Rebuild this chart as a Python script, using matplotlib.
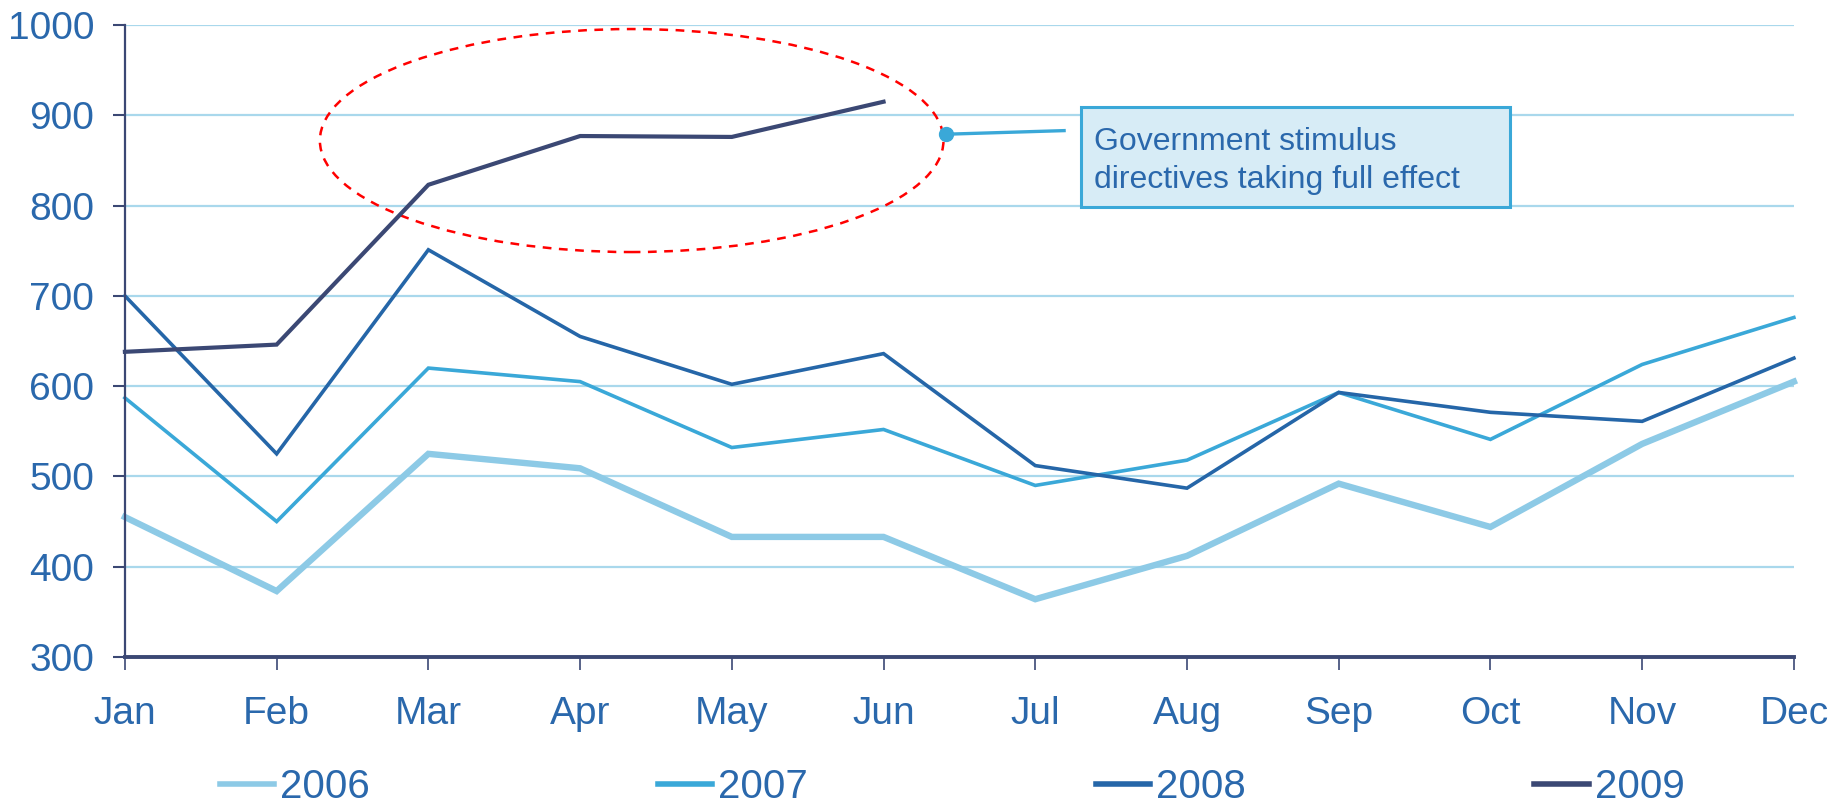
import matplotlib
matplotlib.use("Agg")
import matplotlib.pyplot as plt
from matplotlib.patches import Ellipse, Rectangle

plt.rcParams['font.family'] = ['Liberation Sans', 'DejaVu Sans']

meses = ['Jan', 'Feb', 'Mar', 'Apr', 'May', 'Jun', 'Jul', 'Aug', 'Sep', 'Oct', 'Nov', 'Dec']

v2006 = [455, 373, 525, 509, 433, 433, 364, 412, 492, 444, 536, 605]
v2007 = [587, 450, 620, 605, 532, 552, 490, 518, 593, 541, 624, 676]
v2008 = [700, 525, 751, 655, 602, 636, 512, 487, 593, 571, 561, 631]
v2009 = [638, 646, 823, 877, 876, 915]

anos = ['2006', '2007', '2008', '2009']
cores = ['#8DCAE6', '#3AA8D8', '#2566A8', '#3B4874']
larguras = [4.6, 2.6, 2.6, 3.0]

cor_texto = '#2A68AC'
cor_eixo = '#3B4874'

fig = plt.figure(figsize=(18.29, 8.11), dpi=100)
ax = fig.add_axes([0.0683, 0.1899, 0.9125, 0.7793])

series = [v2006, v2007, v2008, v2009]
for serie, ano, cor, lw in zip(series, anos, cores, larguras):
    ax.plot(range(len(serie)), serie, color=cor, linewidth=lw, label=ano,
            clip_on=False, solid_joinstyle='miter')

ax.set_xlim(0, 11)
ax.set_ylim(300, 1000)
ax.set_yticks(range(300, 1001, 100))
ax.set_xticks(range(12))
ax.set_xticklabels(meses)

# grade horizontal clara
ax.grid(axis='y', color='#A9D8EC', linewidth=1.6)
ax.set_axisbelow(True)

for lado in ['top', 'right']:
    ax.spines[lado].set_visible(False)
ax.spines['left'].set_color(cor_eixo)
ax.spines['bottom'].set_color(cor_eixo)
ax.spines['left'].set_linewidth(1.6)
ax.spines['bottom'].set_linewidth(2.8)

ax.tick_params(axis='y', colors=cor_eixo, labelcolor=cor_texto, labelsize=28,
               length=9, width=1.5, pad=13)
ax.tick_params(axis='x', colors=cor_eixo, labelcolor=cor_texto, labelsize=28,
               length=9, width=1.2, pad=19)

# destaque do estímulo
elipse = Ellipse((3.34, 872), 4.11, 247, fill=False, edgecolor='red',
                 linestyle=(0, (3.5, 3)), linewidth=1.8)
ax.add_patch(elipse)

ax.plot([5.41, 6.19], [879, 883], color='#3AA8D8', linewidth=2.4, clip_on=False)
ax.plot(5.41, 879, 'o', color='#3AA8D8', markersize=10, clip_on=False)

caixa = Rectangle((6.30, 798.5), 2.83, 110.5, facecolor='#D7ECF6',
                  edgecolor='#3AA8D8', linewidth=2.2, zorder=5)
ax.add_patch(caixa)
ax.text(6.39, 849, 'Government stimulus\ndirectives taking full effect',
        fontsize=23, color=cor_texto, va='center', ha='left',
        linespacing=1.35, zorder=6)

leg = fig.legend(loc='center', bbox_to_anchor=(0.5205, 0.03), ncol=4, frameon=False,
                 fontsize=29, handlelength=1.35, handletextpad=0.15,
                 columnspacing=7.15, labelcolor=cor_texto)
for linha in leg.get_lines():
    linha.set_linewidth(4)

plt.savefig('out.png', dpi=100)
